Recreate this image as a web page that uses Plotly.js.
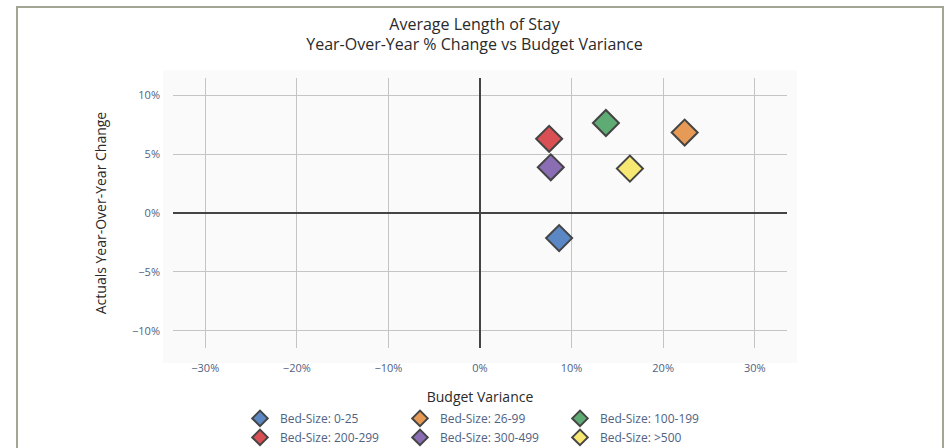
<!DOCTYPE html>
<html>
<head>
<meta charset="utf-8">
<script src="https://cdn.plot.ly/plotly-3.0.1.min.js"></script>
<style>
  html, body { margin: 0; padding: 0; background: #ffffff; }
  #wrap { position: relative; width: 949px; height: 448px; overflow: hidden; }
  #chart { width: 949px; height: 448px; }
  #frame { position: absolute; left: 16px; top: 6px; width: 928px; height: 460px;
           border: 2px solid #a3a595; pointer-events: none; box-sizing: border-box; }
</style>
</head>
<body>
<div id="wrap">
  <div id="chart"></div>
  <div id="frame"></div>
</div>
<script>
// ---- data ----
const categories = ["Bed-Size: 0-25", "Bed-Size: 26-99", "Bed-Size: 100-199",
                    "Bed-Size: 200-299", "Bed-Size: 300-499", "Bed-Size: >500"];
const budgetVariance = [0.0864, 0.2235, 0.1375, 0.0755, 0.0773, 0.1637];
const yoyChange      = [-0.0213, 0.0683, 0.0764, 0.0630, 0.0388, 0.0377];
const colors = ["#5b87c4", "#e69a55", "#5fab74", "#d94f54", "#8a6db3", "#f7e874"];
const titleLines = ["Average Length of Stay", "Year-Over-Year % Change vs Budget Variance"];

const xMax = 1.5 * Math.max(...budgetVariance.map(Math.abs));
const yMax = 1.5 * Math.max(...yoyChange.map(Math.abs));

const traces = categories.map((name, i) => ({
  type: "scatter",
  mode: "markers",
  name: name,
  x: [budgetVariance[i]],
  y: [yoyChange[i]],
  marker: { symbol: "diamond", size: 20, color: colors[i], line: { color: "#444444", width: 2 } },
  hoverinfo: "x+y+name"
}));

const font = "'Open Sans', verdana, arial, sans-serif";

const layout = {
  width: 949, height: 448,
  margin: { l: 173, r: 162, t: 78, b: 100, pad: 0, autoexpand: false },
  paper_bgcolor: "rgba(0,0,0,0)",
  plot_bgcolor: "rgba(0,0,0,0)",
  font: { family: font, size: 12, color: "#2a3f5f" },
  title: {
    text: titleLines.join("<br>"),
    font: { family: font, size: 16, color: "#2a2a2a" },
    x: 0.5, xanchor: "center", xref: "container", yref: "container", y: 0.934, yanchor: "top"
  },
  xaxis: {
    range: [-xMax, xMax], dtick: 0.1, tick0: 0, tickformat: ".0%",
    showgrid: true, gridcolor: "#c4c4c4", gridwidth: 1,
    zeroline: true, zerolinecolor: "#444444", zerolinewidth: 2,
    showline: false, ticks: "", ticklabelstandoff: 12,
    tickfont: { family: font, size: 11, color: "#4f6282" },
    title: { text: "Budget Variance", font: { family: font, size: 14, color: "#2a2a2a" }, standoff: 18 },
    automargin: false, fixedrange: true
  },
  yaxis: {
    range: [-yMax, yMax], dtick: 0.05, tick0: 0, tickformat: ".0%",
    showgrid: true, gridcolor: "#c4c4c4", gridwidth: 1,
    zeroline: true, zerolinecolor: "#444444", zerolinewidth: 2,
    showline: false, ticks: "", ticklabelstandoff: 12,
    tickfont: { family: font, size: 11, color: "#4f6282" },
    title: { text: "Actuals Year-Over-Year Change", font: { family: font, size: 14, color: "#2a2a2a" }, standoff: 22 },
    automargin: false, fixedrange: true
  },
  shapes: [{
    type: "rect", xref: "paper", yref: "paper", layer: "below",
    x0: -0.0163, x1: 1.0163, y0: -0.0555, y1: 1.0285,
    fillcolor: "#fafafa", line: { width: 0 }
  }],
  legend: {
    orientation: "h", x: 0.5, xanchor: "center", y: -0.207, yanchor: "top",
    entrywidth: 115, entrywidthmode: "pixels",
    itemsizing: "constant", font: { family: font, size: 12, color: "#4f6282" },
    bgcolor: "rgba(0,0,0,0)"
  },
  showlegend: true
};

Plotly.newPlot("chart", traces, layout, { displayModeBar: false, staticPlot: true });
</script>
</body>
</html>
